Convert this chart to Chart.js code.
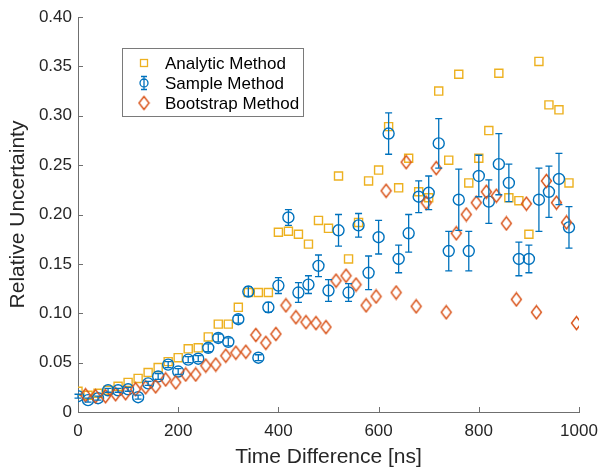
<!DOCTYPE html>
<html>
<head>
<meta charset="utf-8">
<script src="https://cdn.jsdelivr.net/npm/chart.js@4.4.1/dist/chart.umd.min.js"></script>
<style>
  html, body { margin: 0; padding: 0; background: #fff; }
  #wrap { width: 603px; height: 471px; }
</style>
</head>
<body>
<div id="wrap"><canvas id="chart" width="603" height="471"></canvas></div>
<script>
// time bins for analytic + sample method
const timeNs = [0, 20, 40, 60, 80, 100, 120, 140, 160, 180,
  200, 220, 240, 260, 280, 300, 320, 340, 360, 380,
  400, 420, 440, 460, 480, 500, 520, 540, 560, 580,
  600, 620, 640, 660, 680, 700, 720, 740, 760, 780,
  800, 820, 840, 860, 880, 900, 920, 940, 960, 980];
// bootstrap points sit a bit to the right
const bootTimeNs = [15, 35, 55, 75, 95, 115, 135, 155, 175, 195,
  215, 235, 255, 275, 295, 315, 335, 355, 375, 395,
  415, 435, 455, 475, 495, 515, 535, 555, 575, 595,
  615, 635, 655, 675, 695, 715, 735, 755, 775, 795,
  815, 835, 855, 875, 895, 915, 935, 955, 975, 995];

const analytic = [0.021, 0.017, 0.019, 0.022, 0.026, 0.030, 0.034, 0.040, 0.045, 0.051,
  0.055, 0.064, 0.065, 0.076, 0.089, 0.089, 0.106, 0.121, 0.121, 0.121,
  0.182, 0.183, 0.180, 0.170, 0.194, 0.186, 0.239, 0.155, 0.192, 0.234,
  0.245, 0.289, 0.227, 0.257, 0.223, 0.217, 0.325, 0.255, 0.342, 0.232,
  0.257, 0.285, 0.343, 0.217, 0.214, 0.180, 0.355, 0.311, 0.306, 0.232];

const sample = [0.016, 0.012, 0.014, 0.022, 0.022, 0.023, 0.015, 0.029, 0.036, 0.048,
  0.041, 0.053, 0.054, 0.065, 0.075, 0.071, 0.094, 0.122, 0.055, 0.106,
  0.128, 0.197, 0.121, 0.129, 0.148, 0.123, 0.184, 0.121, 0.189, 0.141,
  0.177, 0.282, 0.155, 0.181, 0.218, 0.222, 0.272, 0.163, 0.215, 0.163,
  0.239, 0.213, 0.251, 0.232, 0.155, 0.155, 0.215, 0.223, 0.236, 0.187];

const sampleErr = [0.002, 0.002, 0.002, 0.002, 0.002, 0.002, 0.002, 0.002, 0.003, 0.003,
  0.003, 0.003, 0.003, 0.004, 0.004, 0.004, 0.004, 0.005, 0.003, 0.005,
  0.008, 0.008, 0.010, 0.009, 0.011, 0.011, 0.016, 0.009, 0.012, 0.017,
  0.017, 0.021, 0.014, 0.019, 0.016, 0.017, 0.025, 0.020, 0.031, 0.020,
  0.021, 0.022, 0.031, 0.019, 0.017, 0.014, 0.032, 0.026, 0.026, 0.021];

const bootstrap = [0.017, 0.016, 0.016, 0.018, 0.019, 0.023, 0.025, 0.026, 0.033, 0.030,
  0.038, 0.038, 0.047, 0.048, 0.057, 0.060, 0.061, 0.078, 0.070, 0.079,
  0.108, 0.096, 0.091, 0.090, 0.086, 0.133, 0.138, 0.129, 0.108, 0.117,
  0.224, 0.121, 0.253, 0.107, 0.212, 0.247, 0.101, 0.181, 0.200, 0.212,
  0.223, 0.219, 0.191, 0.114, 0.211, 0.101, 0.234, 0.212, 0.192, 0.090];

const seriesNames = ["Analytic Method", "Sample Method", "Bootstrap Method"];
const colors = { analytic: "#EDB120", sample: "#0072BD", boot: "#D95319" };
const axisColor = "#6f6f6f";
const textColor = "#262626";
const FONT = "'Liberation Sans', Arial, Helvetica, sans-serif";

const toPoints = (xs, ys) => xs.map((x, i) => ({ x: x, y: ys[i] }));

// diamond marker (taller than wide, like matlab)
function diamondCanvas(w, h, color) {
  const c = document.createElement("canvas");
  c.width = w + 3;
  c.height = h + 3;
  const g = c.getContext("2d");
  g.strokeStyle = color;
  g.lineWidth = 1.4;
  g.beginPath();
  g.moveTo(c.width / 2, 1.5);
  g.lineTo(c.width - 1.5, c.height / 2);
  g.lineTo(c.width / 2, c.height - 1.5);
  g.lineTo(1.5, c.height / 2);
  g.closePath();
  g.stroke();
  return c;
}
const diamondImg = diamondCanvas(10, 13, colors.boot);

const errorBars = {
  id: "errorBars",
  afterDatasetsDraw(chart) {
    const ctx = chart.ctx;
    const y = chart.scales.y;
    const meta = chart.getDatasetMeta(1);
    ctx.save();
    ctx.strokeStyle = colors.sample;
    ctx.lineWidth = 1.3;
    meta.data.forEach((pt, i) => {
      const top = y.getPixelForValue(sample[i] + sampleErr[i]);
      const bot = y.getPixelForValue(sample[i] - sampleErr[i]);
      const cx = pt.x;
      ctx.beginPath();
      ctx.moveTo(cx, top);
      ctx.lineTo(cx, bot);
      ctx.moveTo(cx - 3.5, top);
      ctx.lineTo(cx + 3.5, top);
      ctx.moveTo(cx - 3.5, bot);
      ctx.lineTo(cx + 3.5, bot);
      ctx.stroke();
    });
    ctx.restore();
  }
};

const axesDecor = {
  id: "axesDecor",
  afterDraw(chart) {
    const ctx = chart.ctx;
    const { left, bottom } = chart.chartArea;
    const xs = chart.scales.x, ys = chart.scales.y;
    ctx.save();
    ctx.strokeStyle = axisColor;
    ctx.lineWidth = 1;
    ctx.beginPath();
    xs.ticks.forEach((t) => {
      const px = Math.round(xs.getPixelForValue(t.value)) + 0.5;
      ctx.moveTo(px, bottom);
      ctx.lineTo(px, bottom - 5);
    });
    ys.ticks.forEach((t) => {
      const py = Math.round(ys.getPixelForValue(t.value)) + 0.5;
      ctx.moveTo(left, py);
      ctx.lineTo(left + 5, py);
    });
    ctx.stroke();

    // legend box
    const bx = 122.5, by = 48.5, bw = 181, bh = 68;
    ctx.fillStyle = "#fff";
    ctx.fillRect(bx, by, bw, bh);
    ctx.strokeStyle = "#7a7a7a";
    ctx.strokeRect(bx, by, bw, bh);
    const mx = 144, tx = 165;
    const rows = [63, 83, 103];
    ctx.font = "17px " + FONT;
    ctx.fillStyle = "#000";
    ctx.textBaseline = "middle";
    seriesNames.forEach((name, i) => ctx.fillText(name, tx, rows[i] + 1));

    ctx.lineWidth = 1.3;
    ctx.strokeStyle = colors.analytic;
    ctx.strokeRect(mx - 3.5, rows[0] - 3.5, 7, 7);

    ctx.strokeStyle = colors.sample;
    ctx.beginPath();
    ctx.arc(mx, rows[1], 4, 0, Math.PI * 2);
    ctx.moveTo(mx, rows[1] - 6.5);
    ctx.lineTo(mx, rows[1] + 6.5);
    ctx.moveTo(mx - 3, rows[1] - 6.5);
    ctx.lineTo(mx + 3, rows[1] - 6.5);
    ctx.moveTo(mx - 3, rows[1] + 6.5);
    ctx.lineTo(mx + 3, rows[1] + 6.5);
    ctx.stroke();

    ctx.drawImage(diamondImg, mx - diamondImg.width / 2, rows[2] - diamondImg.height / 2);
    ctx.restore();
  }
};

new Chart(document.getElementById("chart"), {
  type: "scatter",
  data: {
    datasets: [
      {
        label: seriesNames[0],
        data: toPoints(timeNs, analytic),
        pointStyle: "rect",
        pointRadius: 5.7,
        borderColor: colors.analytic,
        backgroundColor: "rgba(0,0,0,0)",
        borderWidth: 1.4,
        order: 3,
      },
      {
        label: seriesNames[1],
        data: toPoints(timeNs, sample),
        pointStyle: "circle",
        pointRadius: 5.5,
        borderColor: colors.sample,
        backgroundColor: "rgba(0,0,0,0)",
        borderWidth: 1.4,
        order: 2,
      },
      {
        label: seriesNames[2],
        data: toPoints(bootTimeNs, bootstrap),
        pointStyle: diamondImg,
        borderColor: colors.boot,
        backgroundColor: "rgba(0,0,0,0)",
        order: 1,
      },
    ],
  },
  options: {
    responsive: false,
    devicePixelRatio: 1,
    animation: false,
    events: [],
    layout: { padding: { left: 0, right: 24, top: 17, bottom: 0 } },
    plugins: { legend: { display: false }, tooltip: { enabled: false } },
    scales: {
      x: {
        type: "linear",
        min: 0,
        max: 1000,
        afterFit: (s) => { s.height = 59; s.paddingLeft = 0; s.paddingRight = 0; },
        grid: { display: false, drawTicks: false },
        border: { display: true, color: axisColor, width: 1 },
        ticks: {
          stepSize: 200,
          padding: 9,
          color: textColor,
          font: { family: FONT, size: 17 },
          maxRotation: 0,
          callback: (v) => String(v),
        },
        title: {
          display: true,
          text: "Time Difference [ns]",
          color: textColor,
          font: { family: FONT, size: 21 },
          padding: { top: 0, bottom: 1 },
        },
      },
      y: {
        type: "linear",
        min: 0,
        max: 0.4,
        afterFit: (s) => { s.width = 78; s.paddingTop = 0; s.paddingBottom = 0; },
        grid: { display: false, drawTicks: false },
        border: { display: true, color: axisColor, width: 1 },
        ticks: {
          stepSize: 0.05,
          padding: 6,
          color: textColor,
          font: { family: FONT, size: 17 },
          callback: (v) => (v === 0 ? "0" : v.toFixed(2)),
        },
        title: {
          display: true,
          text: "Relative Uncertainty",
          color: textColor,
          font: { family: FONT, size: 21 },
          padding: { top: 6, bottom: 0 },
        },
      },
    },
  },
  plugins: [errorBars, axesDecor],
});
</script>
</body>
</html>
